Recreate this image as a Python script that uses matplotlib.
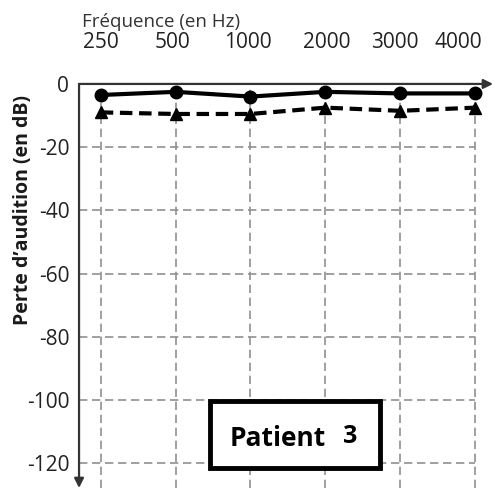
import matplotlib.pyplot as plt
from matplotlib.patches import Rectangle

plt.rcParams['font.family'] = ['Open Sans', 'DejaVu Sans']

# données de l'audiogramme
frequences = ['250', '500', '1000', '2000', '3000', '4000']
perte_trait_plein = [-3.5, -2.5, -4, -2.5, -3, -3]
perte_trait_tirets = [-9, -9.5, -9.5, -7.5, -8.5, -7.5]
graduations_y = [0, -20, -40, -60, -80, -100, -120]

fig = plt.figure(figsize=(4.94, 4.88), dpi=100)
ax = fig.add_axes([0.16, 0.0, 0.838, 0.828])

x = list(range(len(frequences)))
xmin, xmax = -0.29, 5.24
ymin, ymax = -127.8, 0

# grille en tirets gris
ax.hlines(graduations_y[1:], xmin, x[-1], colors='#909090', linestyles=(0, (5, 2.8)),
          linewidth=1.2, zorder=1)
ax.vlines(x, ymin, ymax, colors='#909090', linestyles=(0, (5, 2.8)),
          linewidth=1.2, zorder=1)

# courbes
ax.plot(x, perte_trait_plein, color='black', linewidth=3, marker='o',
        markersize=9, zorder=4)
ax.plot(x, perte_trait_tirets, color='black', linewidth=3, linestyle=(0, (3, 1.6)),
        marker='^', markersize=9, zorder=3)

ax.set_xlim(xmin, xmax)
ax.set_ylim(ymin, ymax)

for s in ['right', 'bottom', 'left', 'top']:
    ax.spines[s].set_visible(False)

# axes avec flèches
ax.annotate('', xy=(1.0, 1.0), xytext=(0.0, 1.0), xycoords='axes fraction',
            arrowprops=dict(arrowstyle='-|>', color='#333333', lw=1.6,
                            mutation_scale=14, shrinkA=0, shrinkB=0))
ax.annotate('', xy=(0.0, 0.0), xytext=(0.0, 1.0), xycoords='axes fraction',
            arrowprops=dict(arrowstyle='-|>', color='#333333', lw=1.6,
                            mutation_scale=14, shrinkA=0, shrinkB=0))

# étiquettes des fréquences en haut (légèrement décalées comme sur l'original)
ax.set_xticks([])
decalages = [0, -2, -2, 1, -4, -12]
for xi, lab, dx in zip(x, frequences, decalages):
    ax.annotate(lab, xy=(xi, 1.0), xycoords=('data', 'axes fraction'),
                xytext=(dx, 26), textcoords='offset points',
                ha='center', va='baseline', fontsize=15, color='#222222',
                annotation_clip=False)

ax.set_yticks(graduations_y)
ax.set_yticklabels([str(v) for v in graduations_y])
ax.tick_params(axis='y', length=0, pad=7, labelsize=15, colors='#222222')

fig.text(0.166, 0.945, 'Fréquence (en Hz)', fontsize=13.5, color='#333333',
         ha='left', va='baseline')
fig.text(0.047, 0.57, 'Perte d\u2019audition (en dB)', fontsize=14,
         fontweight='bold', rotation=90, ha='center', va='center', color='#1a1a1a')

# encadré patient
ax.add_patch(Rectangle((1.46, -121.5), 2.27, 21.3, facecolor='white',
                       edgecolor='black', linewidth=3.5, zorder=5))
ax.text(2.36, -112, 'Patient', fontsize=19, fontweight='bold',
        ha='center', va='center', zorder=6)
ax.text(3.33, -111.5, '3', fontsize=18, fontweight='bold',
        ha='center', va='center', zorder=6)

fig.savefig('out.png', dpi=100)
